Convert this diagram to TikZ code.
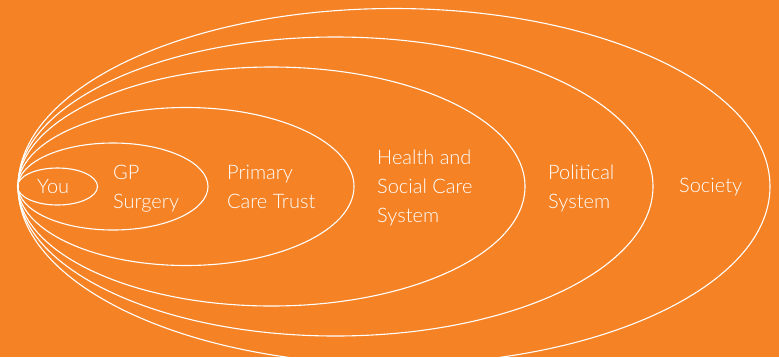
\documentclass[tikz,border=0pt]{standalone}
\usepackage{fontspec}
\setmainfont{Lato Light}
\definecolor{bgorange}{RGB}{245,130,37}
\tikzset{
% rings and the words set in them
ring/.style={draw=white,line width=1.1pt},
ring text/.style={text=white,font=\fontsize{20}{29}\selectfont,align=left,anchor=base west,inner sep=0pt}
}

\begin{document}
\begin{tikzpicture}[x=1pt,y=-1pt]
        \fill[bgorange] (0,0) rectangle (779,357);
        \useasboundingbox (0,0) rectangle (779,357);
        \clip (0,0) rectangle (779,357);
        % Rings, innermost first: centre x / x radius / y radius
        \foreach \cx/\rx/\ry in {57.5/40/18.5, 113/95/43.5, 186/168/79,
          271.5/253.5/119.5, 335.5/317.5/149.5, 394/376/178}
          \draw[ring] (\cx,186.5) ellipse ({\rx pt} and {\ry pt});
        % Labels (placed at the baseline of their last line)
        \node(you)[ring text] at (37,193) {You};
        \node(gp)[ring text] at (113,208) {GP\\Surgery};
        \node(pct)[ring text] at (227,208) {Primary\\Care Trust};
        \node(hsc)[ring text] at (377,222) {Health and\\Social Care\\System};
        \node(pol)[ring text] at (548,208) {Political\\System};
        \node(soc)[ring text] at (679,192) {Society};
\end{tikzpicture}
\end{document}
